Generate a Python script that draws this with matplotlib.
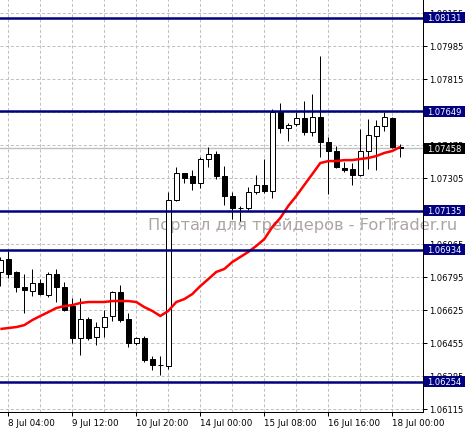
import matplotlib
matplotlib.use('Agg')
import matplotlib.pyplot as plt
from matplotlib.patches import Rectangle
import matplotlib.transforms as mtrans

# ---- data (EURUSD H4) ----
opens = [1.06821, 1.06888, 1.06821, 1.06743, 1.06723, 1.06764, 1.06702, 1.06810, 1.06743, 1.06645,
         1.06480, 1.06578, 1.06486, 1.06537, 1.06594, 1.06718, 1.06578, 1.06455, 1.06480, 1.06372,
         1.06341, 1.06336, 1.07191, 1.07331, 1.07315, 1.07279, 1.07403, 1.07428, 1.07315, 1.07212,
         1.07150, 1.07150, 1.07233, 1.07269, 1.07238, 1.07645, 1.07562, 1.07583, 1.07614, 1.07542,
         1.07619, 1.07490, 1.07444, 1.07356, 1.07351, 1.07320, 1.07444, 1.07521, 1.07573, 1.07614,
         1.07465]
highs = [1.06898, 1.06929, 1.06826, 1.06810, 1.06836, 1.06784, 1.06821, 1.06836, 1.06769, 1.06687,
         1.06687, 1.06589, 1.06563, 1.06625, 1.06723, 1.06754, 1.06609, 1.06486, 1.06491, 1.06388,
         1.06388, 1.07233, 1.07361, 1.07333, 1.07346, 1.07413, 1.07465, 1.07444, 1.07367, 1.07233,
         1.07161, 1.07258, 1.07320, 1.07403, 1.07660, 1.07691, 1.07588, 1.07645, 1.07702, 1.07738,
         1.07933, 1.07516, 1.07470, 1.07387, 1.07382, 1.07557, 1.07609, 1.07604, 1.07645, 1.07619,
         1.07480]
lows = [1.06748, 1.06790, 1.06718, 1.06609, 1.06697, 1.06702, 1.06692, 1.06666, 1.06622, 1.06455,
        1.06393, 1.06470, 1.06444, 1.06486, 1.06568, 1.06563, 1.06434, 1.06444, 1.06357, 1.06316,
        1.06290, 1.06321, 1.07186, 1.07279, 1.07243, 1.07253, 1.07361, 1.07300, 1.07166, 1.07094,
        1.07083, 1.07140, 1.07222, 1.07228, 1.07202, 1.07537, 1.07495, 1.07573, 1.07526, 1.07521,
        1.07413, 1.07222, 1.07356, 1.07336, 1.07269, 1.07315, 1.07351, 1.07346, 1.07547, 1.07457,
        1.07413]
closes = [1.06882, 1.06810, 1.06743, 1.06728, 1.06764, 1.06707, 1.06810, 1.06743, 1.06625, 1.06480,
          1.06578, 1.06480, 1.06537, 1.06589, 1.06718, 1.06573, 1.06455, 1.06480, 1.06367, 1.06341,
          1.06344, 1.07191, 1.07331, 1.07305, 1.07279, 1.07403, 1.07428, 1.07315, 1.07212, 1.07150,
          1.07148, 1.07233, 1.07269, 1.07238, 1.07645, 1.07562, 1.07578, 1.07614, 1.07542, 1.07619,
          1.07490, 1.07444, 1.07361, 1.07346, 1.07320, 1.07444, 1.07526, 1.07573, 1.07619, 1.07465,
          1.07458]
ma = [1.06527, 1.06532, 1.06537, 1.06547, 1.06573, 1.06594, 1.06614, 1.06635, 1.06645, 1.06650,
      1.06661, 1.06666, 1.06666, 1.06666, 1.06671, 1.06671, 1.06671, 1.06666, 1.06640, 1.06620,
      1.06594, 1.06620, 1.06666, 1.06681, 1.06707, 1.06748, 1.06784, 1.06821, 1.06836, 1.06872,
      1.06898, 1.06924, 1.06955, 1.06990, 1.07052, 1.07099, 1.07161, 1.07212, 1.07269, 1.07325,
      1.07382, 1.07392, 1.07392, 1.07397, 1.07397, 1.07403, 1.07408, 1.07418, 1.07434, 1.07444,
      1.07465]

level_lines = [1.08131, 1.07649, 1.07135, 1.06934, 1.06254]
current_price = 1.07458
y_ticks = [1.06115, 1.06285, 1.06455, 1.06625, 1.06795, 1.06965, 1.07135,
           1.07305, 1.07475, 1.07645, 1.07815, 1.07985, 1.08155]
x_tick_pos = [1, 9, 17, 25, 33, 41, 49]
x_tick_labels = ['8 Jul 04:00', '9 Jul 12:00', '10 Jul 20:00', '14 Jul 00:00',
                 '15 Jul 08:00', '16 Jul 16:00', '18 Jul 00:00']
watermark = 'Портал для трейдеров - ForTrader.ru'

# ---- figure ----
W, H = 465, 431
fig = plt.figure(figsize=(W / 100, H / 100), dpi=100)
fig.patch.set_facecolor('white')
ax = fig.add_axes([0, 18.5 / H, 423 / W, 412.5 / H])
ax.set_xlim(-0.0375, 52.84)
ax.set_ylim(1.06102, 1.08227)

px = 0.72  # 1 pixel in points
for s in ['top', 'left']:
    ax.spines[s].set_visible(False)
for s in ['right', 'bottom']:
    ax.spines[s].set_color('black')
    ax.spines[s].set_linewidth(px)

# grid
for v in y_ticks:
    ax.axhline(v, color='#C0C0C0', lw=px, dashes=(3.0, 2.2), zorder=0)
for k in range(0, 14):
    ax.axvline(1 + 4 * k, color='#C0C0C0', lw=px, dashes=(3.0, 2.2), zorder=0)

# watermark
ax.text(148 / 423, 1 - 226 / 412.5, watermark, transform=ax.transAxes,
        fontsize=11.7, color='#ADA5A5', ha='left', va='center', zorder=0.5,
        family='DejaVu Sans')

# current price line
ax.axhline(current_price, color='#C0C0C0', lw=1.0, zorder=1)

# candles
bw = 0.56
for i, (o, h, l, c) in enumerate(zip(opens, highs, lows, closes)):
    ax.vlines(i, l, h, color='black', lw=px, zorder=3)
    bottom = min(o, c)
    height = abs(c - o)
    fc = 'white' if c > o else 'black'
    ax.add_patch(Rectangle((i - bw / 2, bottom), bw, height, facecolor=fc,
                           edgecolor='black', lw=px, zorder=4))

# moving average
ax.plot(range(len(ma)), ma, color='red', lw=1.8, zorder=5, solid_capstyle='butt')

# horizontal levels
for v in level_lines:
    ax.axhline(v, color='#000080', lw=1.8, zorder=6)

# ticks
fs = 6.0
ax.yaxis.tick_right()
ax.set_yticks(y_ticks)
ax.set_yticklabels([f'{v:.5f}' for v in y_ticks])
ax.tick_params(axis='y', length=3, width=px, pad=1.5, labelsize=fs, colors='black')
ax.set_xticks(x_tick_pos)
ax.set_xticklabels(x_tick_labels)
ax.tick_params(axis='x', length=3, width=px, pad=2, labelsize=fs + 0.3, colors='black')
for lab in ax.get_xticklabels():
    lab.set_horizontalalignment('left')

# price boxes
blend = mtrans.blended_transform_factory(fig.transFigure, ax.transData)
bh = 11 * 0.00005152
for v, col in [(v, '#000080') for v in level_lines] + [(current_price, 'black')]:
    fig.add_artist(Rectangle((424 / W, v - bh / 2), 41 / W, bh, transform=blend,
                             facecolor=col, edgecolor='none', zorder=10))
    fig.text(444.5 / W, v, f'{v:.5f}', transform=blend, color='white',
             fontsize=fs, ha='center', va='center', zorder=11)

fig.savefig('out.png', dpi=100)
